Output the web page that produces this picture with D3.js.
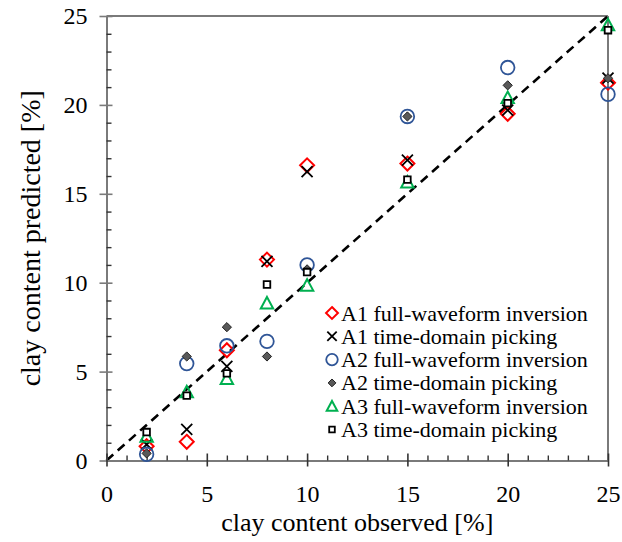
<!DOCTYPE html>
<html>
<head>
<meta charset="utf-8">
<script src="https://cdn.jsdelivr.net/npm/d3@7"></script>
<style>
  html, body { margin: 0; padding: 0; background: #fff; }
  svg { display: block; }
  text { font-family: "Liberation Serif", "Times New Roman", serif; fill: #000; }
</style>
</head>
<body>
<svg id="chart" width="622" height="542"></svg>
<script>
// Observed clay content (%) of the samples
const observed = [2, 4, 6, 8, 10, 15, 20, 25];

// Predicted clay content (%) per array and method
const a1FullWaveform = [0.8, 1.05, 6.2, 11.3, 16.6, 16.7, 19.5, 21.25];
const a1TimeDomain   = [0.9, 1.75, 5.3, 11.2, 16.25, 16.9, 19.7, 21.5];
const a2FullWaveform = [0.35, 5.45, 6.45, 6.7, 11.0, 19.35, 22.1, 20.6];
const a2TimeDomain   = [0.4, 5.85, 7.5, 5.85, 10.75, 19.35, 21.1, 21.5];
const a3FullWaveform = [1.35, 3.85, 4.6, 8.85, 9.85, 15.65, 20.4, 24.5];
const a3TimeDomain   = [1.6, 3.65, 4.9, 9.9, 10.6, 15.8, 20.1, 24.2];

const seriesNames = [
  "A1 full-waveform inversion",
  "A1 time-domain picking",
  "A2 full-waveform inversion",
  "A2 time-domain picking",
  "A3 full-waveform inversion",
  "A3 time-domain picking"
];

const majorTicks = [0, 5, 10, 15, 20, 25];
const minorTicks = d3.range(0, 26).filter(v => v % 5 !== 0);

const svg = d3.select("#chart");
const plotLeft = 106.5, plotRight = 608, plotTop = 16, plotBottom = 460.5;

const x = d3.scaleLinear().domain([0, 25]).range([plotLeft, plotRight]);
const y = d3.scaleLinear().domain([0, 25]).range([plotBottom, plotTop]);

const axisColor = "#7a7a7a";

// Frame: top and right borders
svg.append("line").attr("x1", plotLeft).attr("x2", plotRight).attr("y1", plotTop).attr("y2", plotTop)
  .attr("stroke", axisColor).attr("stroke-width", 2);
svg.append("line").attr("x1", plotRight).attr("x2", plotRight).attr("y1", plotTop).attr("y2", plotBottom)
  .attr("stroke", axisColor).attr("stroke-width", 2);

// 1:1 reference line
svg.append("line")
  .attr("x1", x(0)).attr("y1", y(0)).attr("x2", x(25)).attr("y2", y(25))
  .attr("stroke", "#000").attr("stroke-width", 2.6).attr("stroke-dasharray", "9,6");

// Y axis: major ticks cross the line, minor ticks point inward
const yAxisMajor = d3.axisLeft(y).tickValues(majorTicks).tickSizeInner(7).tickSizeOuter(0).tickPadding(12);
const gy = svg.append("g").attr("transform", `translate(${plotLeft},0)`).call(yAxisMajor);
gy.select(".domain").attr("stroke", axisColor).attr("stroke-width", 2);
gy.selectAll(".tick line").attr("stroke", axisColor).attr("stroke-width", 1.6).attr("x1", 6).attr("x2", -7);
gy.selectAll(".tick text").style("font-size", "24px").attr("font-family", "Liberation Serif").attr("fill", "#000");
const yMinor = d3.axisRight(y).tickValues(minorTicks).tickSize(5).tickFormat("");
const gym = svg.append("g").attr("transform", `translate(${plotLeft},0)`).call(yMinor);
gym.select(".domain").remove();
gym.selectAll(".tick line").attr("stroke", "#333").attr("stroke-width", 1.4);

// X axis: major ticks cross the line, minor ticks point inward
const xAxisMajor = d3.axisBottom(x).tickValues(majorTicks).tickSizeInner(6).tickSizeOuter(0).tickPadding(18);
const gx = svg.append("g").attr("transform", `translate(0,${plotBottom})`).call(xAxisMajor);
gx.select(".domain").attr("stroke", axisColor).attr("stroke-width", 2);
gx.selectAll(".tick line").attr("stroke", "#333").attr("stroke-width", 1.6).attr("y1", -7).attr("y2", 6);
gx.selectAll(".tick text").style("font-size", "24px").attr("font-family", "Liberation Serif").attr("fill", "#000");
const xMinor = d3.axisTop(x).tickValues(minorTicks).tickSize(5).tickFormat("");
const gxm = svg.append("g").attr("transform", `translate(0,${plotBottom})`).call(xMinor);
gxm.select(".domain").remove();
gxm.selectAll(".tick line").attr("stroke", "#333").attr("stroke-width", 1.4);

// Axis titles
svg.append("text")
  .attr("x", (plotLeft + plotRight) / 2).attr("y", 531)
  .attr("text-anchor", "middle").style("font-size", "26px")
  .text("clay content observed [%]");
svg.append("text")
  .attr("transform", `translate(40,${(plotTop + plotBottom) / 2}) rotate(-90)`)
  .attr("text-anchor", "middle").style("font-size", "28px")
  .text("clay content predicted [%]");

// Marker shapes
function diamondPath(cx, cy, h) {
  return `M${cx},${cy - h}L${cx + h},${cy}L${cx},${cy + h}L${cx - h},${cy}Z`;
}
function crossPath(cx, cy, h) {
  return `M${cx - h},${cy - h}L${cx + h},${cy + h}M${cx - h},${cy + h}L${cx + h},${cy - h}`;
}
function trianglePath(cx, cy, h) {
  return `M${cx},${cy - h}L${cx + h},${cy + h * 0.85}L${cx - h},${cy + h * 0.85}Z`;
}
function squarePath(cx, cy, h) {
  return `M${cx - h},${cy - h}H${cx + h}V${cy + h}H${cx - h}Z`;
}

const styles = [
  { draw: (g, cx, cy, s) => g.append("path").attr("d", diamondPath(cx, cy, 7 * s)).attr("fill", "none").attr("stroke", "#ff0000").attr("stroke-width", 2) },
  { draw: (g, cx, cy, s) => g.append("path").attr("d", crossPath(cx, cy, 5.5 * s)).attr("fill", "none").attr("stroke", "#000").attr("stroke-width", 1.8) },
  { draw: (g, cx, cy, s) => g.append("circle").attr("cx", cx).attr("cy", cy).attr("r", 6.8 * s).attr("fill", "none").attr("stroke", "#2f5597").attr("stroke-width", 1.8) },
  { draw: (g, cx, cy, s) => g.append("path").attr("d", diamondPath(cx, cy, 4.6 * s)).attr("fill", "#595959").attr("stroke", "#222").attr("stroke-width", 1) },
  { draw: (g, cx, cy, s) => g.append("path").attr("d", trianglePath(cx, cy, 6.2 * s)).attr("fill", "none").attr("stroke", "#00b050").attr("stroke-width", 2) },
  { draw: (g, cx, cy, s) => g.append("path").attr("d", squarePath(cx, cy, 3.3 * s)).attr("fill", "#fff").attr("stroke", "#000").attr("stroke-width", 1.8) }
];

const allSeries = [a1FullWaveform, a1TimeDomain, a2FullWaveform, a2TimeDomain, a3FullWaveform, a3TimeDomain];

const marks = svg.append("g");
allSeries.forEach((vals, i) => {
  const g = marks.append("g").attr("class", "series-" + i);
  vals.forEach((v, j) => styles[i].draw(g, x(observed[j]), y(v), 1));
});

// Legend
const legend = svg.append("g");
const legendX = 332, legendY0 = 313, legendStep = 23.3;
seriesNames.forEach((name, i) => {
  const cy = legendY0 + i * legendStep;
  styles[i].draw(legend, legendX, cy, 0.85);
  legend.append("text").attr("x", legendX + 9).attr("y", cy + 7.5)
    .style("font-size", "22px").text(name);
});
</script>
</body>
</html>
